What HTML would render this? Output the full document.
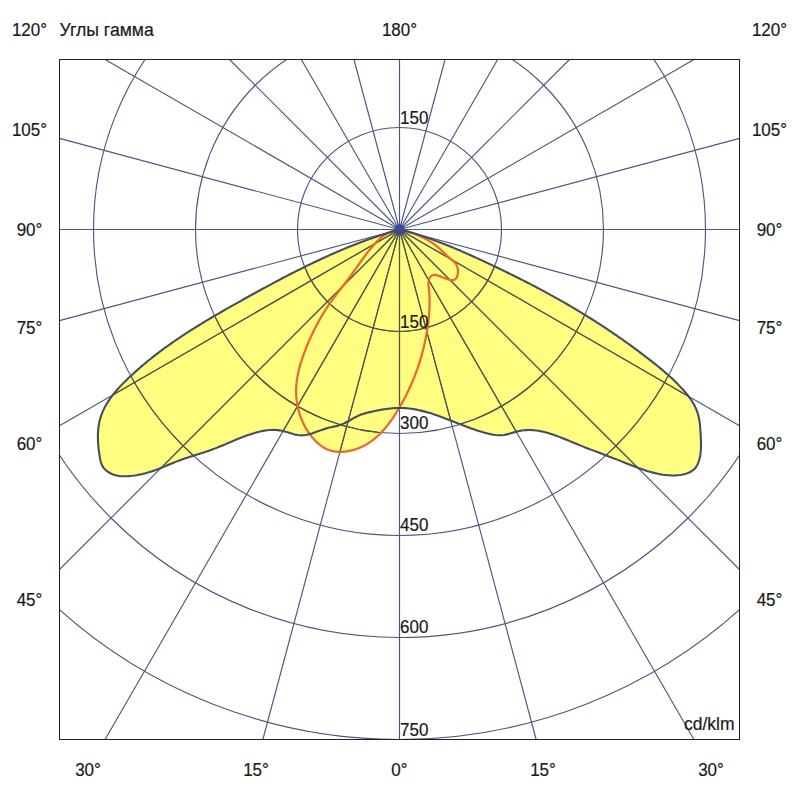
<!DOCTYPE html>
<html><head><meta charset="utf-8"><style>
html,body{margin:0;padding:0;background:#fff;width:800px;height:800px;overflow:hidden}
svg{display:block}
text{font-family:"Liberation Sans",sans-serif;font-size:18px;fill:#1a1a1a;stroke:#1a1a1a;stroke-width:0.2px}
</style></head><body>
<svg width="800" height="800" viewBox="0 0 800 800">
<defs>
<path id="py" d="M399.50,229.50 L399.50,229.50 L401.51,229.99 L403.51,230.50 L405.51,231.03 L407.50,231.56 L409.49,232.12 L411.48,232.68 L413.46,233.27 L415.44,233.86 L417.41,234.47 L419.38,235.09 L421.34,235.72 L423.30,236.37 L425.26,237.02 L427.21,237.69 L429.16,238.37 L431.11,239.06 L433.05,239.77 L434.99,240.48 L436.92,241.20 L438.86,241.93 L440.79,242.67 L442.71,243.42 L444.63,244.18 L446.55,244.95 L448.47,245.73 L450.39,246.51 L452.30,247.30 L454.21,248.10 L456.11,248.91 L458.02,249.72 L459.92,250.54 L461.82,251.36 L463.71,252.19 L465.61,253.03 L467.50,253.87 L469.39,254.72 L471.28,255.57 L473.17,256.42 L475.05,257.28 L476.94,258.14 L478.82,259.01 L480.70,259.87 L482.58,260.74 L484.45,261.62 L486.33,262.49 L488.21,263.37 L490.08,264.25 L491.95,265.13 L493.82,266.02 L495.69,266.90 L497.56,267.79 L499.42,268.69 L501.28,269.58 L503.15,270.48 L505.01,271.39 L506.87,272.29 L508.72,273.20 L510.58,274.11 L512.43,275.03 L514.28,275.94 L516.13,276.86 L517.98,277.79 L519.83,278.72 L521.67,279.65 L523.52,280.58 L525.36,281.52 L527.19,282.46 L529.03,283.41 L530.87,284.36 L532.70,285.31 L534.53,286.27 L536.36,287.23 L538.19,288.20 L540.01,289.17 L541.83,290.14 L543.65,291.12 L545.47,292.10 L547.29,293.08 L549.10,294.08 L550.91,295.07 L552.72,296.07 L554.53,297.07 L556.33,298.08 L558.14,299.09 L559.94,300.11 L561.73,301.13 L563.53,302.16 L565.32,303.19 L567.11,304.23 L568.90,305.27 L570.69,306.31 L572.47,307.36 L574.25,308.42 L576.03,309.48 L577.80,310.54 L579.58,311.61 L581.35,312.69 L583.11,313.77 L584.88,314.85 L586.64,315.94 L588.40,317.04 L590.15,318.14 L591.90,319.24 L593.65,320.35 L595.40,321.46 L597.14,322.58 L598.88,323.70 L600.62,324.83 L602.36,325.96 L604.09,327.10 L605.81,328.24 L607.54,329.39 L609.26,330.54 L610.97,331.70 L612.69,332.86 L614.40,334.02 L616.11,335.19 L617.81,336.37 L619.51,337.55 L621.20,338.73 L622.90,339.92 L624.59,341.11 L626.27,342.31 L627.95,343.51 L629.63,344.72 L631.30,345.93 L632.97,347.15 L634.64,348.37 L636.30,349.60 L637.96,350.83 L639.61,352.07 L641.26,353.31 L642.91,354.55 L644.55,355.80 L646.18,357.05 L647.82,358.31 L649.44,359.57 L651.07,360.84 L652.69,362.12 L654.30,363.39 L655.91,364.68 L657.51,365.97 L659.11,367.27 L660.69,368.59 L662.27,369.91 L663.85,371.24 L665.41,372.58 L666.96,373.94 L668.51,375.31 L670.04,376.70 L671.56,378.10 L673.07,379.51 L674.57,380.95 L676.06,382.40 L677.53,383.87 L678.99,385.36 L680.44,386.87 L681.87,388.40 L683.28,389.95 L684.66,391.52 L686.02,393.12 L687.34,394.75 L688.62,396.39 L689.85,398.07 L691.04,399.77 L692.16,401.50 L693.23,403.25 L694.23,405.03 L695.16,406.85 L696.01,408.69 L696.77,410.57 L697.46,412.47 L698.05,414.41 L698.55,416.38 L698.98,418.38 L699.34,420.39 L699.65,422.43 L699.90,424.49 L700.10,426.56 L700.28,428.65 L700.42,430.74 L700.54,432.84 L700.66,434.94 L700.77,437.05 L700.86,439.15 L700.94,441.25 L700.99,443.35 L701.00,445.44 L700.96,447.52 L700.87,449.59 L700.71,451.65 L700.48,453.70 L700.17,455.74 L699.76,457.75 L699.26,459.76 L698.65,461.74 L697.91,463.66 L697.01,465.50 L695.95,467.21 L694.68,468.75 L693.21,470.09 L691.56,471.25 L689.77,472.24 L687.86,473.07 L685.87,473.76 L683.83,474.31 L681.76,474.74 L679.67,475.05 L677.57,475.27 L675.45,475.39 L673.34,475.43 L671.24,475.41 L669.15,475.32 L667.08,475.16 L665.01,474.95 L662.96,474.69 L660.92,474.37 L658.88,474.00 L656.86,473.58 L654.85,473.12 L652.85,472.62 L650.85,472.08 L648.87,471.51 L646.89,470.90 L644.92,470.26 L642.95,469.60 L640.99,468.91 L639.04,468.21 L637.10,467.48 L635.15,466.74 L633.22,465.99 L631.28,465.23 L629.36,464.46 L627.43,463.69 L625.51,462.92 L623.58,462.15 L621.66,461.39 L619.75,460.63 L617.83,459.88 L615.91,459.14 L614.00,458.40 L612.09,457.66 L610.17,456.93 L608.26,456.20 L606.35,455.47 L604.43,454.75 L602.52,454.02 L600.61,453.30 L598.69,452.57 L596.78,451.84 L594.86,451.11 L592.94,450.38 L591.03,449.64 L589.10,448.90 L587.18,448.15 L585.26,447.40 L583.33,446.64 L581.40,445.88 L579.47,445.10 L577.54,444.32 L575.60,443.53 L573.66,442.73 L571.72,441.92 L569.77,441.11 L567.82,440.30 L565.87,439.50 L563.92,438.70 L561.96,437.91 L560.00,437.14 L558.03,436.39 L556.06,435.66 L554.09,434.96 L552.11,434.29 L550.13,433.66 L548.15,433.06 L546.17,432.51 L544.18,432.00 L542.18,431.54 L540.19,431.13 L538.19,430.78 L536.19,430.49 L534.18,430.27 L532.17,430.12 L530.16,430.04 L528.14,430.03 L526.12,430.10 L524.09,430.26 L522.07,430.51 L520.03,430.84 L518.00,431.27 L515.96,431.80 L513.92,432.38 L511.88,432.98 L509.83,433.58 L507.79,434.14 L505.75,434.63 L503.72,435.01 L501.69,435.24 L499.66,435.31 L497.64,435.24 L495.63,435.03 L493.62,434.73 L491.62,434.35 L489.62,433.92 L487.63,433.45 L485.65,432.94 L483.67,432.41 L481.69,431.84 L479.72,431.25 L477.76,430.63 L475.80,429.99 L473.84,429.33 L471.88,428.65 L469.93,427.95 L467.98,427.23 L466.04,426.50 L464.09,425.76 L462.15,425.01 L460.20,424.26 L458.26,423.49 L456.32,422.73 L454.38,421.96 L452.44,421.19 L450.50,420.43 L448.56,419.67 L446.61,418.92 L444.67,418.17 L442.72,417.44 L440.77,416.72 L438.82,416.01 L436.87,415.32 L434.91,414.65 L432.95,414.00 L430.98,413.37 L429.01,412.76 L427.04,412.18 L425.06,411.63 L423.08,411.11 L421.09,410.63 L419.09,410.18 L417.09,409.76 L415.08,409.38 L413.07,409.05 L411.05,408.75 L409.02,408.50 L406.98,408.30 L404.93,408.14 L402.88,408.04 L400.81,407.99 L398.74,407.99 L396.66,408.04 L394.57,408.15 L392.48,408.30 L390.39,408.49 L388.30,408.73 L386.21,409.00 L384.12,409.30 L382.04,409.64 L379.96,410.00 L377.90,410.39 L375.84,410.80 L373.80,411.22 L371.78,411.66 L369.77,412.12 L367.78,412.60 L365.82,413.13 L363.87,413.70 L361.94,414.33 L360.04,415.04 L358.17,415.83 L356.32,416.71 L354.49,417.68 L352.68,418.70 L350.87,419.74 L349.06,420.79 L347.24,421.80 L345.39,422.76 L343.52,423.64 L341.62,424.41 L339.67,425.07 L337.70,425.64 L335.71,426.15 L333.70,426.62 L331.69,427.08 L329.68,427.55 L327.68,428.06 L325.70,428.63 L323.74,429.26 L321.78,429.93 L319.82,430.62 L317.87,431.32 L315.90,432.03 L313.93,432.72 L311.93,433.39 L309.92,434.01 L307.89,434.56 L305.85,434.99 L303.81,435.28 L301.77,435.39 L299.74,435.30 L297.72,435.05 L295.70,434.65 L293.69,434.15 L291.67,433.57 L289.67,432.95 L287.65,432.32 L285.64,431.71 L283.62,431.16 L281.60,430.69 L279.57,430.34 L277.54,430.09 L275.50,429.95 L273.46,429.90 L271.42,429.94 L269.37,430.07 L267.33,430.28 L265.30,430.56 L263.26,430.90 L261.24,431.30 L259.22,431.76 L257.21,432.27 L255.21,432.82 L253.22,433.40 L251.25,434.02 L249.28,434.67 L247.32,435.34 L245.38,436.04 L243.44,436.77 L241.50,437.51 L239.58,438.27 L237.65,439.05 L235.74,439.84 L233.82,440.63 L231.91,441.44 L230.00,442.25 L228.10,443.06 L226.19,443.88 L224.28,444.69 L222.37,445.49 L220.45,446.29 L218.54,447.08 L216.62,447.85 L214.69,448.61 L212.76,449.35 L210.82,450.07 L208.88,450.76 L206.92,451.43 L204.96,452.09 L203.00,452.73 L201.03,453.36 L199.06,453.97 L197.08,454.59 L195.11,455.20 L193.14,455.81 L191.16,456.42 L189.20,457.05 L187.23,457.68 L185.27,458.33 L183.31,459.00 L181.37,459.68 L179.43,460.40 L177.50,461.13 L175.57,461.89 L173.66,462.67 L171.74,463.46 L169.83,464.25 L167.92,465.05 L166.01,465.85 L164.10,466.65 L162.19,467.44 L160.27,468.21 L158.34,468.97 L156.41,469.70 L154.47,470.41 L152.52,471.09 L150.56,471.74 L148.59,472.35 L146.60,472.92 L144.61,473.45 L142.61,473.94 L140.59,474.40 L138.57,474.80 L136.54,475.17 L134.49,475.49 L132.44,475.76 L130.39,475.98 L128.32,476.15 L126.25,476.27 L124.17,476.32 L122.09,476.28 L120.01,476.13 L117.93,475.83 L115.85,475.37 L113.79,474.74 L111.79,473.95 L109.87,473.01 L108.06,471.92 L106.39,470.69 L104.89,469.32 L103.58,467.82 L102.50,466.20 L101.65,464.46 L101.01,462.62 L100.51,460.70 L100.11,458.73 L99.76,456.71 L99.42,454.67 L99.11,452.60 L98.83,450.51 L98.58,448.40 L98.37,446.27 L98.19,444.14 L98.05,442.00 L97.95,439.86 L97.91,437.71 L97.91,435.57 L97.96,433.44 L98.07,431.32 L98.24,429.22 L98.47,427.13 L98.77,425.07 L99.13,423.03 L99.57,421.02 L100.08,419.04 L100.66,417.10 L101.31,415.18 L102.02,413.29 L102.79,411.43 L103.62,409.60 L104.51,407.79 L105.46,406.01 L106.45,404.26 L107.50,402.52 L108.59,400.82 L109.73,399.13 L110.92,397.47 L112.14,395.83 L113.40,394.20 L114.70,392.60 L116.03,391.02 L117.39,389.46 L118.77,387.91 L120.19,386.38 L121.62,384.87 L123.08,383.37 L124.56,381.89 L126.05,380.42 L127.56,378.97 L129.07,377.52 L130.60,376.09 L132.13,374.67 L133.67,373.26 L135.22,371.86 L136.77,370.48 L138.34,369.10 L139.90,367.74 L141.48,366.38 L143.06,365.04 L144.65,363.70 L146.25,362.38 L147.85,361.06 L149.46,359.76 L151.07,358.46 L152.69,357.17 L154.32,355.90 L155.95,354.63 L157.59,353.37 L159.24,352.12 L160.89,350.88 L162.55,349.65 L164.21,348.43 L165.88,347.21 L167.55,346.00 L169.23,344.80 L170.91,343.61 L172.60,342.43 L174.30,341.25 L176.00,340.09 L177.70,338.92 L179.41,337.77 L181.13,336.62 L182.85,335.48 L184.57,334.35 L186.30,333.22 L188.03,332.10 L189.76,330.98 L191.50,329.87 L193.25,328.77 L195.00,327.67 L196.75,326.58 L198.50,325.49 L200.26,324.41 L202.02,323.33 L203.79,322.26 L205.55,321.19 L207.33,320.13 L209.10,319.07 L210.88,318.02 L212.66,316.97 L214.44,315.92 L216.22,314.87 L218.01,313.83 L219.80,312.80 L221.59,311.76 L223.38,310.73 L225.18,309.70 L226.97,308.68 L228.77,307.66 L230.57,306.64 L232.37,305.62 L234.18,304.60 L235.98,303.59 L237.79,302.57 L239.59,301.56 L241.40,300.55 L243.21,299.54 L245.02,298.53 L246.83,297.53 L248.64,296.52 L250.45,295.52 L252.26,294.52 L254.08,293.51 L255.89,292.52 L257.71,291.52 L259.52,290.52 L261.34,289.53 L263.16,288.54 L264.98,287.55 L266.80,286.56 L268.62,285.58 L270.45,284.60 L272.27,283.62 L274.10,282.64 L275.93,281.67 L277.76,280.70 L279.59,279.73 L281.42,278.77 L283.25,277.80 L285.09,276.85 L286.93,275.89 L288.76,274.94 L290.60,274.00 L292.45,273.05 L294.29,272.11 L296.14,271.18 L297.98,270.25 L299.83,269.32 L301.68,268.40 L303.54,267.48 L305.39,266.57 L307.25,265.66 L309.11,264.75 L310.97,263.85 L312.83,262.96 L314.70,262.07 L316.57,261.18 L318.44,260.31 L320.31,259.43 L322.18,258.56 L324.06,257.70 L325.94,256.84 L327.82,255.99 L329.71,255.15 L331.59,254.31 L333.48,253.47 L335.37,252.65 L337.27,251.83 L339.17,251.01 L341.07,250.20 L342.97,249.40 L344.87,248.61 L346.78,247.82 L348.69,247.04 L350.61,246.27 L352.52,245.50 L354.44,244.74 L356.37,243.99 L358.29,243.24 L360.22,242.50 L362.15,241.78 L364.09,241.05 L366.03,240.34 L367.97,239.63 L369.91,238.93 L371.86,238.24 L373.81,237.56 L375.77,236.89 L377.73,236.22 L379.69,235.57 L381.65,234.92 L383.62,234.28 L385.59,233.65 L387.57,233.03 L389.55,232.42 L391.53,231.82 L393.52,231.22 L395.51,230.64 L397.50,230.06 L399.50,229.50 Z"/>
<path id="pr" d="M399.50,229.50 L399.50,229.50 L400.35,229.69 L401.21,229.88 L402.06,230.07 L402.91,230.28 L403.75,230.49 L404.60,230.71 L405.44,230.93 L406.28,231.16 L407.12,231.40 L407.96,231.64 L408.79,231.89 L409.62,232.15 L410.45,232.41 L411.28,232.68 L412.10,232.96 L412.92,233.24 L413.74,233.53 L414.55,233.83 L415.37,234.14 L416.17,234.45 L416.98,234.77 L417.78,235.10 L418.58,235.44 L419.37,235.78 L420.16,236.13 L420.94,236.49 L421.73,236.86 L422.50,237.23 L423.27,237.61 L424.04,238.00 L424.81,238.40 L425.57,238.81 L426.32,239.22 L427.07,239.64 L427.82,240.07 L428.55,240.51 L429.29,240.96 L430.02,241.42 L430.74,241.88 L431.46,242.35 L432.17,242.83 L432.88,243.32 L433.58,243.82 L434.28,244.33 L434.97,244.84 L435.65,245.37 L436.33,245.90 L437.00,246.44 L437.66,246.99 L438.32,247.55 L438.97,248.12 L439.62,248.70 L440.26,249.28 L440.90,249.88 L441.53,250.47 L442.16,251.07 L442.79,251.67 L443.41,252.28 L444.04,252.88 L444.66,253.49 L445.29,254.09 L445.92,254.69 L446.54,255.29 L447.18,255.88 L447.81,256.47 L448.46,257.05 L449.10,257.63 L449.75,258.19 L450.41,258.75 L451.08,259.29 L451.75,259.83 L452.43,260.36 L453.09,260.90 L453.74,261.45 L454.37,262.03 L454.95,262.65 L455.50,263.31 L456.00,264.03 L456.44,264.80 L456.82,265.61 L457.15,266.46 L457.43,267.35 L457.66,268.25 L457.83,269.18 L457.94,270.11 L458.00,271.04 L458.01,271.96 L457.97,272.88 L457.87,273.77 L457.72,274.63 L457.52,275.45 L457.26,276.24 L456.95,276.97 L456.59,277.64 L456.18,278.25 L455.71,278.79 L455.19,279.24 L454.62,279.61 L454.00,279.88 L453.32,280.06 L452.60,280.15 L451.83,280.15 L451.03,280.08 L450.19,279.94 L449.33,279.74 L448.43,279.49 L447.52,279.20 L446.59,278.88 L445.64,278.52 L444.68,278.15 L443.72,277.76 L442.76,277.36 L441.80,276.98 L440.84,276.60 L439.90,276.24 L438.97,275.90 L438.06,275.60 L437.18,275.35 L436.32,275.15 L435.48,275.02 L434.68,274.95 L433.92,274.97 L433.19,275.08 L432.50,275.30 L431.86,275.61 L431.27,276.02 L430.73,276.52 L430.23,277.10 L429.79,277.74 L429.41,278.44 L429.09,279.19 L428.82,279.98 L428.62,280.80 L428.48,281.64 L428.41,282.50 L428.40,283.36 L428.43,284.24 L428.49,285.12 L428.58,286.00 L428.69,286.89 L428.79,287.78 L428.89,288.67 L428.99,289.56 L429.07,290.44 L429.15,291.33 L429.23,292.22 L429.29,293.10 L429.35,293.98 L429.40,294.86 L429.45,295.74 L429.49,296.62 L429.52,297.50 L429.54,298.38 L429.56,299.26 L429.58,300.14 L429.59,301.01 L429.59,301.89 L429.59,302.76 L429.58,303.63 L429.56,304.51 L429.54,305.38 L429.52,306.25 L429.49,307.12 L429.45,307.99 L429.41,308.86 L429.37,309.73 L429.32,310.59 L429.26,311.46 L429.20,312.33 L429.14,313.19 L429.07,314.06 L429.00,314.92 L428.93,315.78 L428.85,316.65 L428.76,317.51 L428.68,318.37 L428.59,319.23 L428.49,320.09 L428.40,320.95 L428.29,321.81 L428.19,322.67 L428.08,323.53 L427.97,324.38 L427.86,325.24 L427.74,326.10 L427.62,326.95 L427.50,327.81 L427.37,328.66 L427.24,329.51 L427.11,330.37 L426.97,331.22 L426.83,332.07 L426.68,332.92 L426.54,333.77 L426.39,334.62 L426.23,335.47 L426.07,336.32 L425.91,337.17 L425.75,338.01 L425.58,338.86 L425.41,339.71 L425.24,340.55 L425.06,341.40 L424.88,342.24 L424.70,343.08 L424.51,343.92 L424.32,344.76 L424.13,345.60 L423.93,346.44 L423.73,347.28 L423.53,348.12 L423.32,348.96 L423.11,349.79 L422.90,350.63 L422.68,351.46 L422.46,352.30 L422.24,353.13 L422.01,353.96 L421.78,354.79 L421.55,355.62 L421.31,356.45 L421.07,357.28 L420.83,358.11 L420.59,358.94 L420.34,359.76 L420.08,360.59 L419.83,361.41 L419.57,362.24 L419.31,363.06 L419.04,363.88 L418.77,364.70 L418.50,365.52 L418.23,366.34 L417.95,367.16 L417.67,367.97 L417.38,368.79 L417.09,369.60 L416.80,370.42 L416.51,371.23 L416.21,372.04 L415.91,372.85 L415.60,373.66 L415.30,374.47 L414.99,375.28 L414.67,376.09 L414.35,376.89 L414.03,377.70 L413.71,378.50 L413.38,379.30 L413.05,380.10 L412.72,380.91 L412.38,381.70 L412.04,382.50 L411.70,383.30 L411.36,384.10 L411.01,384.89 L410.65,385.68 L410.30,386.48 L409.94,387.27 L409.58,388.06 L409.21,388.85 L408.84,389.64 L408.47,390.42 L408.10,391.21 L407.72,391.99 L407.34,392.78 L406.95,393.56 L406.57,394.34 L406.18,395.12 L405.78,395.90 L405.38,396.67 L404.98,397.45 L404.58,398.22 L404.17,399.00 L403.77,399.77 L403.35,400.54 L402.94,401.31 L402.52,402.08 L402.09,402.85 L401.67,403.61 L401.24,404.38 L400.81,405.14 L400.37,405.90 L399.94,406.66 L399.49,407.42 L399.05,408.18 L398.60,408.94 L398.15,409.69 L397.70,410.45 L397.24,411.20 L396.78,411.95 L396.31,412.69 L395.85,413.44 L395.38,414.18 L394.90,414.92 L394.42,415.66 L393.94,416.40 L393.45,417.13 L392.96,417.86 L392.47,418.58 L391.97,419.30 L391.47,420.02 L390.96,420.74 L390.45,421.45 L389.93,422.15 L389.41,422.86 L388.89,423.55 L388.36,424.25 L387.82,424.93 L387.28,425.62 L386.74,426.30 L386.19,426.97 L385.64,427.64 L385.08,428.30 L384.51,428.96 L383.95,429.61 L383.37,430.25 L382.79,430.89 L382.21,431.52 L381.62,432.15 L381.02,432.77 L380.42,433.38 L379.81,433.99 L379.20,434.58 L378.58,435.18 L377.96,435.76 L377.33,436.34 L376.69,436.91 L376.05,437.47 L375.40,438.02 L374.75,438.56 L374.09,439.10 L373.42,439.63 L372.75,440.15 L372.07,440.66 L371.38,441.16 L370.69,441.65 L369.99,442.14 L369.28,442.61 L368.57,443.07 L367.85,443.53 L367.12,443.97 L366.39,444.41 L365.65,444.83 L364.90,445.25 L364.14,445.65 L363.38,446.05 L362.61,446.43 L361.83,446.80 L361.05,447.16 L360.25,447.51 L359.45,447.85 L358.65,448.17 L357.83,448.49 L357.01,448.79 L356.17,449.08 L355.34,449.36 L354.49,449.62 L353.64,449.87 L352.78,450.11 L351.92,450.34 L351.06,450.55 L350.19,450.74 L349.31,450.92 L348.44,451.09 L347.56,451.24 L346.68,451.37 L345.80,451.49 L344.91,451.59 L344.03,451.68 L343.15,451.74 L342.26,451.79 L341.38,451.82 L340.50,451.83 L339.62,451.83 L338.75,451.80 L337.88,451.76 L337.01,451.70 L336.15,451.61 L335.29,451.51 L334.43,451.38 L333.59,451.23 L332.74,451.07 L331.91,450.88 L331.08,450.66 L330.26,450.43 L329.45,450.17 L328.65,449.89 L327.85,449.59 L327.07,449.26 L326.30,448.91 L325.53,448.54 L324.78,448.14 L324.04,447.72 L323.30,447.28 L322.58,446.82 L321.87,446.35 L321.16,445.85 L320.47,445.34 L319.78,444.81 L319.11,444.26 L318.45,443.70 L317.79,443.12 L317.15,442.53 L316.51,441.93 L315.89,441.32 L315.27,440.69 L314.66,440.05 L314.07,439.41 L313.48,438.75 L312.90,438.09 L312.33,437.41 L311.77,436.74 L311.23,436.05 L310.69,435.36 L310.16,434.65 L309.64,433.95 L309.12,433.23 L308.62,432.51 L308.13,431.78 L307.65,431.05 L307.18,430.31 L306.71,429.56 L306.26,428.81 L305.82,428.05 L305.38,427.29 L304.96,426.52 L304.55,425.75 L304.14,424.97 L303.75,424.18 L303.36,423.39 L302.99,422.60 L302.62,421.80 L302.26,421.00 L301.92,420.19 L301.58,419.38 L301.26,418.57 L300.94,417.75 L300.63,416.93 L300.34,416.10 L300.05,415.27 L299.77,414.44 L299.51,413.61 L299.25,412.77 L299.00,411.93 L298.77,411.09 L298.54,410.24 L298.32,409.39 L298.12,408.54 L297.92,407.69 L297.73,406.84 L297.55,405.98 L297.39,405.13 L297.23,404.27 L297.08,403.41 L296.95,402.55 L296.82,401.69 L296.71,400.83 L296.60,399.97 L296.50,399.11 L296.42,398.24 L296.34,397.38 L296.28,396.52 L296.22,395.66 L296.18,394.79 L296.14,393.93 L296.12,393.07 L296.11,392.21 L296.10,391.35 L296.11,390.49 L296.12,389.64 L296.15,388.78 L296.18,387.92 L296.23,387.07 L296.28,386.21 L296.34,385.36 L296.41,384.50 L296.49,383.65 L296.58,382.80 L296.68,381.95 L296.78,381.10 L296.90,380.25 L297.02,379.40 L297.15,378.55 L297.28,377.70 L297.43,376.86 L297.58,376.01 L297.74,375.17 L297.91,374.32 L298.08,373.48 L298.26,372.64 L298.45,371.80 L298.64,370.96 L298.84,370.12 L299.05,369.28 L299.26,368.44 L299.48,367.61 L299.71,366.77 L299.94,365.94 L300.17,365.10 L300.42,364.27 L300.66,363.44 L300.92,362.61 L301.17,361.78 L301.44,360.95 L301.70,360.12 L301.98,359.30 L302.25,358.47 L302.53,357.65 L302.82,356.82 L303.11,356.00 L303.40,355.18 L303.70,354.36 L304.00,353.54 L304.30,352.72 L304.61,351.91 L304.92,351.09 L305.24,350.28 L305.55,349.46 L305.88,348.65 L306.20,347.84 L306.52,347.03 L306.85,346.22 L307.18,345.41 L307.51,344.61 L307.85,343.80 L308.19,343.00 L308.53,342.19 L308.87,341.39 L309.22,340.59 L309.57,339.79 L309.92,339.00 L310.27,338.20 L310.63,337.41 L310.99,336.61 L311.35,335.82 L311.72,335.03 L312.08,334.24 L312.45,333.46 L312.83,332.67 L313.20,331.89 L313.58,331.11 L313.96,330.33 L314.35,329.55 L314.74,328.77 L315.13,327.99 L315.52,327.22 L315.92,326.45 L316.32,325.68 L316.72,324.91 L317.13,324.14 L317.53,323.38 L317.95,322.62 L318.36,321.85 L318.78,321.10 L319.20,320.34 L319.62,319.58 L320.05,318.83 L320.48,318.08 L320.91,317.33 L321.35,316.58 L321.79,315.84 L322.23,315.09 L322.68,314.35 L323.13,313.61 L323.58,312.88 L324.04,312.14 L324.50,311.41 L324.96,310.68 L325.43,309.95 L325.90,309.23 L326.37,308.50 L326.85,307.78 L327.33,307.07 L327.81,306.35 L328.30,305.64 L328.79,304.92 L329.28,304.21 L329.77,303.51 L330.27,302.80 L330.77,302.10 L331.28,301.39 L331.78,300.69 L332.29,299.99 L332.80,299.30 L333.31,298.60 L333.83,297.90 L334.34,297.21 L334.86,296.52 L335.38,295.83 L335.90,295.14 L336.42,294.45 L336.95,293.76 L337.47,293.07 L338.00,292.38 L338.52,291.69 L339.05,291.01 L339.58,290.32 L340.11,289.63 L340.64,288.95 L341.16,288.26 L341.69,287.58 L342.22,286.89 L342.75,286.21 L343.28,285.52 L343.81,284.83 L344.34,284.15 L344.87,283.46 L345.40,282.77 L345.92,282.08 L346.45,281.40 L346.97,280.71 L347.50,280.02 L348.02,279.32 L348.54,278.63 L349.06,277.94 L349.58,277.24 L350.10,276.55 L350.61,275.85 L351.13,275.15 L351.64,274.45 L352.15,273.75 L352.66,273.04 L353.16,272.34 L353.67,271.64 L354.17,270.93 L354.68,270.22 L355.18,269.52 L355.68,268.81 L356.19,268.10 L356.69,267.40 L357.19,266.69 L357.69,265.98 L358.19,265.27 L358.69,264.57 L359.20,263.86 L359.70,263.15 L360.20,262.45 L360.71,261.74 L361.21,261.04 L361.72,260.33 L362.23,259.63 L362.74,258.93 L363.25,258.23 L363.76,257.53 L364.27,256.83 L364.79,256.14 L365.31,255.45 L365.83,254.75 L366.35,254.06 L366.87,253.38 L367.40,252.69 L367.93,252.01 L368.47,251.33 L369.00,250.65 L369.54,249.97 L370.08,249.30 L370.63,248.63 L371.18,247.96 L371.74,247.30 L372.29,246.64 L372.86,245.98 L373.42,245.33 L373.99,244.68 L374.57,244.04 L375.15,243.40 L375.74,242.77 L376.33,242.15 L376.94,241.53 L377.54,240.93 L378.16,240.33 L378.78,239.74 L379.41,239.16 L380.05,238.60 L380.69,238.04 L381.35,237.50 L382.01,236.96 L382.68,236.44 L383.36,235.94 L384.06,235.45 L384.76,234.97 L385.47,234.51 L386.20,234.06 L386.93,233.63 L387.68,233.22 L388.43,232.82 L389.20,232.44 L389.99,232.08 L390.78,231.74 L391.59,231.42 L392.41,231.12 L393.25,230.84 L394.10,230.58 L394.96,230.34 L395.84,230.12 L396.73,229.93 L397.64,229.76 L398.56,229.62 L399.50,229.50 Z"/>
<g id="grid">
<line x1="399.5" y1="229.5" x2="399.50" y2="739.50"/>
<line x1="399.5" y1="229.5" x2="536.15" y2="739.50"/>
<line x1="399.5" y1="229.5" x2="693.95" y2="739.50"/>
<line x1="399.5" y1="229.5" x2="739.50" y2="569.50"/>
<line x1="399.5" y1="229.5" x2="739.50" y2="425.80"/>
<line x1="399.5" y1="229.5" x2="739.50" y2="320.60"/>
<line x1="399.5" y1="229.5" x2="739.50" y2="229.50"/>
<line x1="399.5" y1="229.5" x2="739.50" y2="138.40"/>
<line x1="399.5" y1="229.5" x2="693.95" y2="59.50"/>
<line x1="399.5" y1="229.5" x2="569.50" y2="59.50"/>
<line x1="399.5" y1="229.5" x2="497.65" y2="59.50"/>
<line x1="399.5" y1="229.5" x2="445.05" y2="59.50"/>
<line x1="399.5" y1="229.5" x2="399.50" y2="59.50"/>
<line x1="399.5" y1="229.5" x2="353.95" y2="59.50"/>
<line x1="399.5" y1="229.5" x2="301.35" y2="59.50"/>
<line x1="399.5" y1="229.5" x2="229.50" y2="59.50"/>
<line x1="399.5" y1="229.5" x2="105.05" y2="59.50"/>
<line x1="399.5" y1="229.5" x2="59.50" y2="138.40"/>
<line x1="399.5" y1="229.5" x2="59.50" y2="229.50"/>
<line x1="399.5" y1="229.5" x2="59.50" y2="320.60"/>
<line x1="399.5" y1="229.5" x2="59.50" y2="425.80"/>
<line x1="399.5" y1="229.5" x2="59.50" y2="569.50"/>
<line x1="399.5" y1="229.5" x2="105.05" y2="739.50"/>
<line x1="399.5" y1="229.5" x2="262.85" y2="739.50"/>
<circle cx="399.5" cy="229.5" r="102.0"/>
<circle cx="399.5" cy="229.5" r="204.0"/>
<circle cx="399.5" cy="229.5" r="306.0"/>
<circle cx="399.5" cy="229.5" r="408.0"/>
<circle cx="399.5" cy="229.5" r="510.0"/>
</g>
<clipPath id="y"><use href="#py"/><use href="#pr"/></clipPath>
<clipPath id="c"><rect x="59.5" y="59.5" width="680.0" height="680.0"/></clipPath>
</defs>
<g clip-path="url(#c)">
<use href="#py" fill="#fffe80" stroke="none"/>
<use href="#pr" fill="#fffe80" stroke="none"/>
<use href="#grid" stroke="#4d5780" stroke-width="1.15" fill="none"/>
<g clip-path="url(#y)"><use href="#grid" stroke="#50563a" stroke-width="1.15" fill="none"/></g>
<use href="#pr" fill="none" stroke="#e96c2e" stroke-width="2.3" stroke-linejoin="round"/>
<use href="#py" fill="none" stroke="#454e5e" stroke-width="2.1" stroke-linejoin="round"/>
<circle cx="399.5" cy="229.5" r="5.2" fill="#3b4a98"/>
</g>
<rect x="59.5" y="59.5" width="680.0" height="680.0" fill="none" stroke="#222" stroke-width="1"/>
<text x="29.5" y="36" text-anchor="middle" textLength="35.17" lengthAdjust="spacingAndGlyphs">120°</text>
<text x="769.5" y="36" text-anchor="middle" textLength="35.17" lengthAdjust="spacingAndGlyphs">120°</text>
<text x="29.5" y="136" text-anchor="middle" textLength="35.17" lengthAdjust="spacingAndGlyphs">105°</text>
<text x="769.5" y="136" text-anchor="middle" textLength="35.17" lengthAdjust="spacingAndGlyphs">105°</text>
<text x="29.5" y="235.5" text-anchor="middle" textLength="25.72" lengthAdjust="spacingAndGlyphs">90°</text>
<text x="769.5" y="235.5" text-anchor="middle" textLength="25.72" lengthAdjust="spacingAndGlyphs">90°</text>
<text x="29.5" y="334" text-anchor="middle" textLength="25.72" lengthAdjust="spacingAndGlyphs">75°</text>
<text x="769.5" y="334" text-anchor="middle" textLength="25.72" lengthAdjust="spacingAndGlyphs">75°</text>
<text x="29.5" y="449.5" text-anchor="middle" textLength="25.72" lengthAdjust="spacingAndGlyphs">60°</text>
<text x="769.5" y="449.5" text-anchor="middle" textLength="25.72" lengthAdjust="spacingAndGlyphs">60°</text>
<text x="29.5" y="606" text-anchor="middle" textLength="25.72" lengthAdjust="spacingAndGlyphs">45°</text>
<text x="769.5" y="606" text-anchor="middle" textLength="25.72" lengthAdjust="spacingAndGlyphs">45°</text>
<text x="59.5" y="36" text-anchor="start" textLength="94.3" lengthAdjust="spacingAndGlyphs">Углы гамма</text>
<text x="399.5" y="36" text-anchor="middle" textLength="35.17" lengthAdjust="spacingAndGlyphs">180°</text>
<text x="88" y="776" text-anchor="middle" textLength="25.72" lengthAdjust="spacingAndGlyphs">30°</text>
<text x="256" y="776" text-anchor="middle" textLength="25.72" lengthAdjust="spacingAndGlyphs">15°</text>
<text x="399.5" y="776" text-anchor="middle" textLength="16.27" lengthAdjust="spacingAndGlyphs">0°</text>
<text x="543" y="776" text-anchor="middle" textLength="25.72" lengthAdjust="spacingAndGlyphs">15°</text>
<text x="711" y="776" text-anchor="middle" textLength="25.72" lengthAdjust="spacingAndGlyphs">30°</text>
<text x="400" y="124" text-anchor="start" textLength="28.38" lengthAdjust="spacingAndGlyphs">150</text>
<text x="400" y="327.5" text-anchor="start" textLength="28.38" lengthAdjust="spacingAndGlyphs">150</text>
<text x="400" y="429" text-anchor="start" textLength="28.38" lengthAdjust="spacingAndGlyphs">300</text>
<text x="400" y="531" text-anchor="start" textLength="28.38" lengthAdjust="spacingAndGlyphs">450</text>
<text x="400" y="633" text-anchor="start" textLength="28.38" lengthAdjust="spacingAndGlyphs">600</text>
<text x="400" y="736" text-anchor="start" textLength="28.38" lengthAdjust="spacingAndGlyphs">750</text>
<text x="734.5" y="730" text-anchor="end" textLength="50.6" lengthAdjust="spacingAndGlyphs">cd/klm</text>
</svg>
</body></html>
